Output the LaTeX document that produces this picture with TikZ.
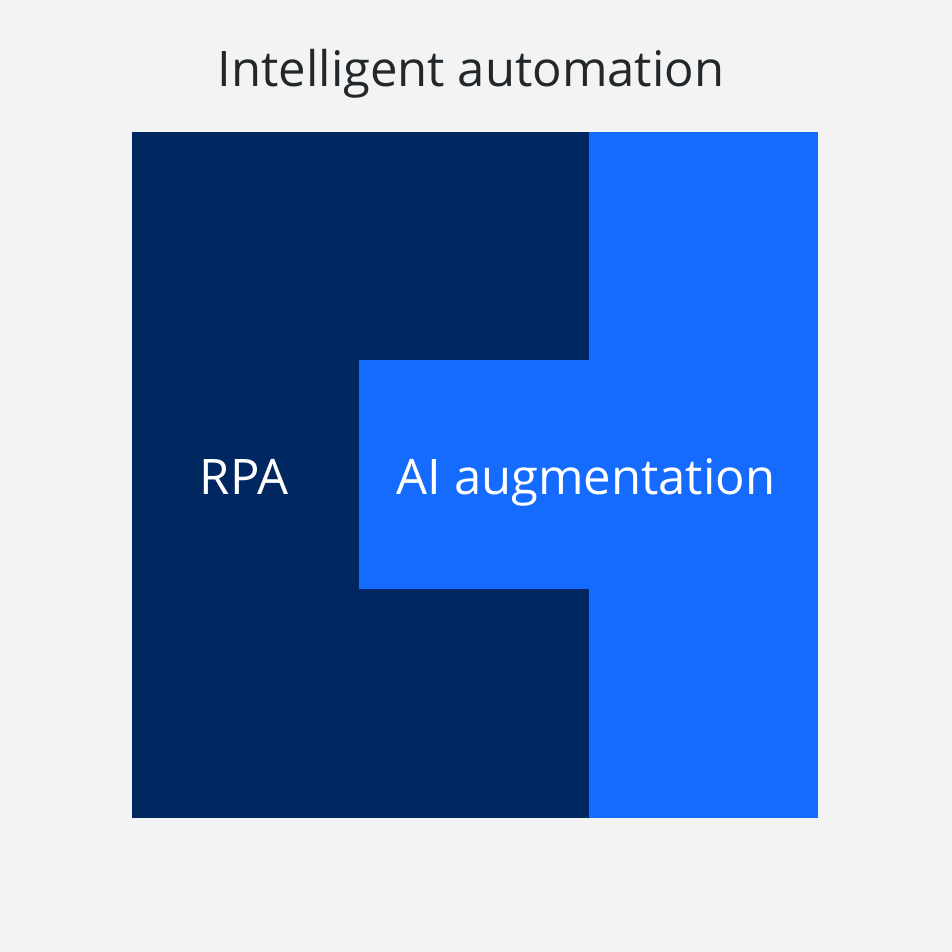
\documentclass[tikz,border=0pt]{standalone}
\usepackage{fontspec}
\setmainfont{Open Sans}
\definecolor{bg}{HTML}{F3F3F3}
\definecolor{navy}{HTML}{012761}
\definecolor{brightblue}{HTML}{146BFD}
\definecolor{ink}{HTML}{21272A}
\begin{document}
\begin{tikzpicture}[x=1pt,y=-1pt,
  lbl/.style={anchor=base,inner sep=0pt,font=\fontsize{49}{54}\selectfont,text=white},
  ttl/.style={anchor=base,inner sep=0pt,font=\fontsize{49}{54}\selectfont,text=ink}]
\useasboundingbox (0,0) rectangle (952,952);
\fill[bg] (0,0) rectangle (952,952);
\fill[navy] (132,132) rectangle (589,818);
\fill[brightblue] (589,132) rectangle (818,818);
\fill[brightblue] (359,360) rectangle (589,589);
\node[ttl] (title) at (471,87) {Intelligent automation};
\node[lbl] (rpa) at (244,494) {RPA};
\node[lbl] (ai) at (586,494) {AI augmentation};
\end{tikzpicture}
\end{document}
